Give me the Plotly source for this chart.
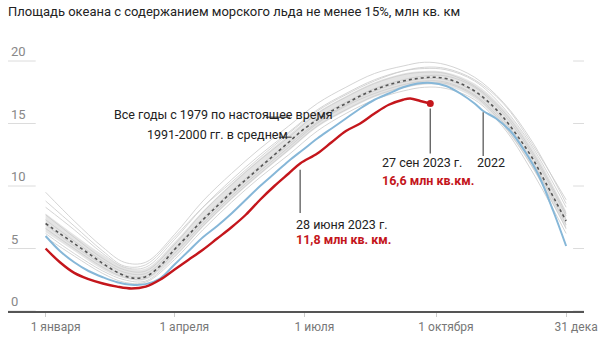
import plotly.graph_objects as go

# ---------------- data ----------------
# 1991-2000 average (dotted)
avg_days = [0, 10, 20, 30, 40, 50, 60, 70, 80, 90, 100, 110, 120, 130, 140, 150, 160, 170,
            180, 190, 200, 210, 220, 230, 240, 250, 260, 270, 280, 290, 300, 310, 320, 330,
            340, 350, 364]
avg_vals = [7.0, 6.2, 5.4, 4.6, 3.8, 3.1, 2.65, 2.75, 3.6, 4.9, 6.1, 7.3, 8.4, 9.5, 10.5, 11.5,
            12.5, 13.5, 14.5, 15.3, 16.0, 16.6, 17.2, 17.7, 18.1, 18.4, 18.6, 18.7, 18.6,
            18.2, 17.6, 16.7, 15.5, 14.0, 12.3, 10.2, 7.2]

# 2022 (blue)
y2022_days = [0, 10, 20, 30, 40, 50, 60, 70, 80, 90, 100, 110, 120, 130, 140, 150, 160, 170,
              180, 190, 200, 210, 220, 230, 240, 250, 260, 270, 280, 290, 300, 306, 315, 325,
              335, 345, 355, 364]
y2022_vals = [6.0, 4.8, 3.9, 3.2, 2.7, 2.3, 2.1, 2.15, 2.6, 3.7, 4.8, 5.9, 6.8, 7.8, 8.9, 10.0,
              11.0, 12.0, 12.9, 13.8, 14.6, 15.4, 16.2, 16.9, 17.4, 17.9, 18.2, 18.25, 18.0,
              17.4, 16.6, 16.0, 15.4, 14.4, 12.8, 10.8, 8.0, 5.2]

# 2023 (red)
y2023_days = [0, 10, 20, 30, 40, 50, 60, 70, 80, 90, 100, 110, 120, 130, 140, 150, 160, 170,
              178, 190, 200, 210, 220, 230, 240, 250, 255, 262, 269]
y2023_vals = [5.0, 3.9, 3.05, 2.55, 2.2, 1.95, 1.8, 1.95, 2.5, 3.3, 4.1, 4.9, 5.8, 6.7, 7.7,
              8.9, 10.0, 11.0, 11.8, 12.6, 13.5, 14.4, 15.0, 15.8, 16.5, 16.9, 17.0, 16.8, 16.6]

# all years since 1979 (grey), sampled on a common grid
g_days = [0, 20, 40, 55, 70, 90, 110, 130, 150, 170, 190, 210, 230, 250, 265, 280, 300, 320,
          340, 364]
band_hi = [7.8, 6.1, 4.5, 3.5, 3.4, 5.5, 8.0, 10.2, 12.2, 14.1, 15.9, 17.2, 18.3, 19.0, 19.2,
           19.1, 18.2, 16.2, 13.1, 8.0]
band_lo = [6.3, 4.8, 3.3, 2.6, 2.5, 4.3, 6.7, 8.9, 10.9, 12.8, 14.7, 16.0, 17.1, 17.8, 18.1,
           18.0, 17.0, 14.8, 11.5, 6.5]
grey_years = [
    [9.5, 7.2, 5.1, 3.9, 3.9, 6.1, 8.8, 11.0, 13.0, 14.8, 16.6, 17.9, 19.0, 19.6, 19.9, 19.7,
     18.7, 16.7, 13.6, 8.6],
    [8.3, 6.5, 4.6, 3.5, 3.5, 5.7, 8.3, 10.5, 12.5, 14.3, 16.1, 17.4, 18.5, 19.2, 19.4, 19.3,
     18.4, 16.3, 13.2, 8.3],
    [7.7, 5.9, 4.2, 3.3, 3.2, 5.3, 7.9, 10.1, 12.1, 13.9, 15.8, 17.1, 18.2, 18.9, 19.1, 19.0,
     18.0, 16.0, 12.8, 7.8],
    [6.6, 5.0, 3.5, 2.7, 2.6, 4.6, 7.0, 9.2, 11.2, 13.1, 15.0, 16.4, 17.4, 18.1, 18.4, 18.3,
     17.3, 15.1, 11.9, 6.9],
    [7.3, 5.6, 4.0, 3.1, 3.0, 5.0, 7.4, 9.6, 11.6, 13.5, 15.4, 16.7, 17.8, 18.5, 18.8, 18.8,
     17.9, 15.8, 12.6, 7.6],
    [6.2, 4.6, 3.2, 2.5, 2.4, 4.3, 6.8, 9.0, 11.0, 12.9, 14.8, 16.1, 17.2, 17.9, 18.2, 18.2,
     17.2, 14.9, 11.6, 6.6],
    [8.8, 6.8, 4.8, 3.6, 3.7, 5.9, 8.3, 10.3, 12.3, 14.2, 16.0, 17.3, 18.4, 19.2, 19.5, 19.4,
     18.5, 16.6, 13.4, 8.9],
    [6.9, 5.2, 3.7, 2.9, 2.8, 4.8, 7.2, 9.4, 11.4, 13.3, 15.1, 16.5, 17.6, 18.3, 18.6, 18.5,
     17.5, 15.3, 12.0, 7.3],
    [5.9, 4.4, 3.0, 2.3, 2.3, 4.1, 6.5, 8.7, 10.7, 12.5, 14.4, 15.8, 16.9, 17.6, 17.9, 17.8,
     16.9, 14.7, 11.2, 6.2],
]

x_tickvals = [0, 90, 181, 273, 364]
x_ticktext = ["1 января", "1 апреля", "1 июля", "1 октября", "31 дека"]
y_tickvals = [0, 5, 10, 15, 20]

title_text = "Площадь океана с содержанием морского льда не менее 15%, млн кв. км"

RED = "#c4161c"
BLUE = "#86b7d8"
FONT = "Roboto"

fig = go.Figure()

# band
fig.add_trace(go.Scatter(x=g_days, y=band_hi, mode="lines", line=dict(width=0, shape="spline"),
                         hoverinfo="skip", showlegend=False))
fig.add_trace(go.Scatter(x=g_days, y=band_lo, mode="lines", line=dict(width=0, shape="spline"),
                         fill="tonexty", fillcolor="#e4e4e4", hoverinfo="skip", showlegend=False))
for g in grey_years:
    fig.add_trace(go.Scatter(x=g_days, y=g, mode="lines",
                             line=dict(color="rgba(205,205,205,0.85)", width=1, shape="spline"),
                             hoverinfo="skip", showlegend=False))

fig.add_trace(go.Scatter(x=avg_days, y=avg_vals, mode="lines",
                         line=dict(color="#555555", width=1.6, dash="dot", shape="spline"),
                         showlegend=False))
fig.add_trace(go.Scatter(x=y2022_days, y=y2022_vals, mode="lines",
                         line=dict(color=BLUE, width=2, shape="spline"), showlegend=False))
fig.add_trace(go.Scatter(x=y2023_days, y=y2023_vals, mode="lines",
                         line=dict(color=RED, width=2.4, shape="spline"), showlegend=False))
fig.add_trace(go.Scatter(x=[y2023_days[-1]], y=[y2023_vals[-1]], mode="markers",
                         marker=dict(color=RED, size=7), showlegend=False))

# short y tick marks at both sides (left long, right short)
PLOT_W = 605 - 8 - 15
for v in y_tickvals:
    fig.add_shape(type="line", xref="paper", yref="y", x0=0, x1=28 / PLOT_W, y0=v, y1=v,
                  line=dict(color="#dcdcdc", width=1), layer="below")
    fig.add_shape(type="line", xref="paper", yref="y", x0=1 - 11 / PLOT_W, x1=1, y0=v, y1=v,
                  line=dict(color="#dcdcdc", width=1), layer="below")

# leader lines
LC = "#666666"
leaders = [
    (178, 11.3, 178, 7.85),
    (269, 16.2, 269, 12.6),
    (306, 15.9, 306, 12.4),
    (154, 15.5, 171, 15.5),
    (163, 13.9, 172, 13.9),
]
for x0, y0, x1, y1 in leaders:
    fig.add_shape(type="line", x0=x0, y0=y0, x1=x1, y1=y1, xref="x", yref="y",
                  line=dict(color=LC, width=1.4), layer="above")

def ann(x, y, text, color="#222222", bold=False, anchor="left", size=12.5):
    fig.add_annotation(x=x, y=y, xref="x", yref="y", text=("<b>%s</b>" % text) if bold else text,
                       showarrow=False, xanchor=anchor, yanchor="middle",
                       font=dict(family=FONT, size=size, color=color))

ann(124.5, 15.7, "Все годы с 1979 по настоящее время", anchor="center")
ann(120, 14.15, "1991-2000 гг. в среднем", anchor="center")
ann(173.5, 6.96, "28 июня 2023 г.")
ann(173.5, 5.75, "11,8 млн кв. км.", color=RED, bold=True)
ann(234, 11.85, "27 сен 2023 г.")
ann(234, 10.45, "16,6 млн кв.км.", color=RED, bold=True)
ann(300, 11.85, "2022")

fig.update_layout(
    width=605, height=342,
    margin=dict(l=8, r=15, t=36, b=28),
    paper_bgcolor="white", plot_bgcolor="white",
    font=dict(family=FONT),
    title=dict(text=title_text, x=8 / 605, xanchor="left", xref="container",
               y=1 - 11 / 342, yanchor="middle", yref="container",
               font=dict(family=FONT, size=13, color="#222222")),
    xaxis=dict(range=[-26.3, 376.5], tickvals=x_tickvals, ticktext=x_ticktext,
               showgrid=False, zeroline=False, showline=True, linecolor="#555555",
               linewidth=2, ticks="outside", ticklen=4, tickcolor="#cccccc",
               ticklabelshift=10,
               tickfont=dict(family=FONT, size=12, color="#777777")),
    yaxis=dict(range=[0, 22], tickvals=y_tickvals, showgrid=False, zeroline=False,
               showline=False, ticks="", ticklabelposition="inside top",
               tickfont=dict(family=FONT, size=13, color="#888888")),
)

fig.write_html("out.html")
